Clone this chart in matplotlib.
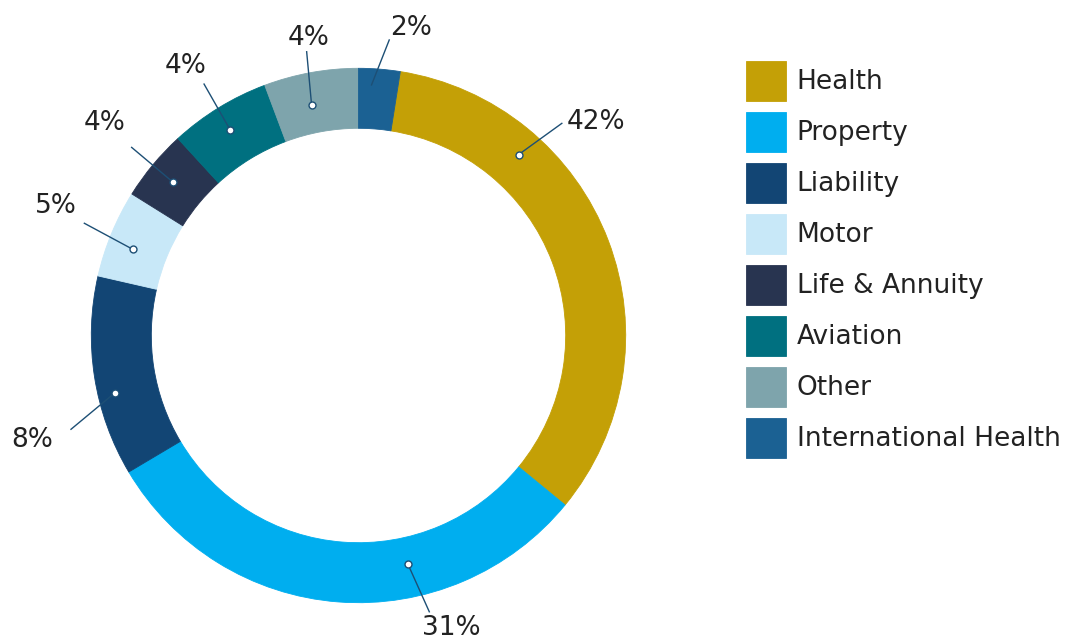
import numpy as np
import matplotlib
matplotlib.use('Agg')
import matplotlib.pyplot as plt

names = ['Health', 'Property', 'Liability', 'Motor', 'Life & Annuity',
         'Aviation', 'Other', 'International Health']
shares = [33.4, 30.5, 12.1, 5.3, 4.3, 6.1, 5.7, 2.5]
pct_labels = ['42%', '31%', '8%', '5%', '4%', '4%', '4%', '2%']

colors = ['#C4A006', '#00AEEF', '#124574', '#C8E8F8', '#283450',
          '#007080', '#7EA4AC', '#1B6193']

TEXT = '#222222'
LEADER = '#1D4F75'

# label layout: anchor (fraction along wedge, radius), line end, text position
anchor_frac = [0.27, 0.35, 0.40, 0.42, 0.49, 0.48, 0.44, 0.33]
anchor_r = [0.904, 0.873, 0.938, 0.905, 0.903, 0.906, 0.880, 0.939]
line_end = [(0.761, 0.794), (0.265, -1.034), (-1.076, -0.351), (-1.026, 0.420),
            (-0.849, 0.704), (-0.578, 0.941), (-0.194, 1.062), (0.115, 1.106)]
text_pos = [(0.889, 0.772), (0.349, -1.121), (-1.222, -0.416), (-1.131, 0.457),
            (-0.949, 0.769), (-0.646, 0.984), (-0.188, 1.087), (0.196, 1.125)]
show_dot = [True, True, True, True, True, True, True, False]

fig = plt.figure(figsize=(10.66, 6.39), dpi=100, facecolor='white')
ax = fig.add_axes([0, 0, 1, 1])

start = 90 - shares[-1] / sum(shares) * 360
wedges, _ = ax.pie(shares, colors=colors, startangle=start, counterclock=False,
                   radius=1.0, wedgeprops=dict(width=0.2246, linewidth=0.6))
for w in wedges:
    w.set_edgecolor(w.get_facecolor())

for i, w in enumerate(wedges):
    # clockwise start of the wedge is theta2
    ang = np.deg2rad(w.theta2 - anchor_frac[i] * (w.theta2 - w.theta1))
    dx, dy = anchor_r[i] * np.cos(ang), anchor_r[i] * np.sin(ang)
    lx, ly = line_end[i]
    ax.plot([dx, lx], [dy, ly], color=LEADER, lw=1, zorder=4)
    if show_dot[i]:
        ax.plot(dx, dy, 'o', ms=5, mfc='white', mec=LEADER, mew=1, zorder=5)
    tx, ty = text_pos[i]
    ax.text(tx, ty, pct_labels[i], ha='center', va='baseline',
            fontsize=19, color=TEXT)

ax.set_xlim(-358.5 / 267.2, (1066 - 358.5) / 267.2)
ax.set_ylim((335.5 - 639) / 267.2, 335.5 / 267.2)
ax.set_aspect('auto')
ax.axis('off')

fig.legend(wedges, names, loc='upper left',
           bbox_to_anchor=(746 / 1066, 1 - 61 / 639),
           frameon=False, borderpad=0, borderaxespad=0,
           handlelength=1.515, handleheight=1.955, handletextpad=0.405,
           labelspacing=0.417, fontsize=19, labelcolor=TEXT)

plt.savefig('out.png', dpi=100, facecolor='white')
